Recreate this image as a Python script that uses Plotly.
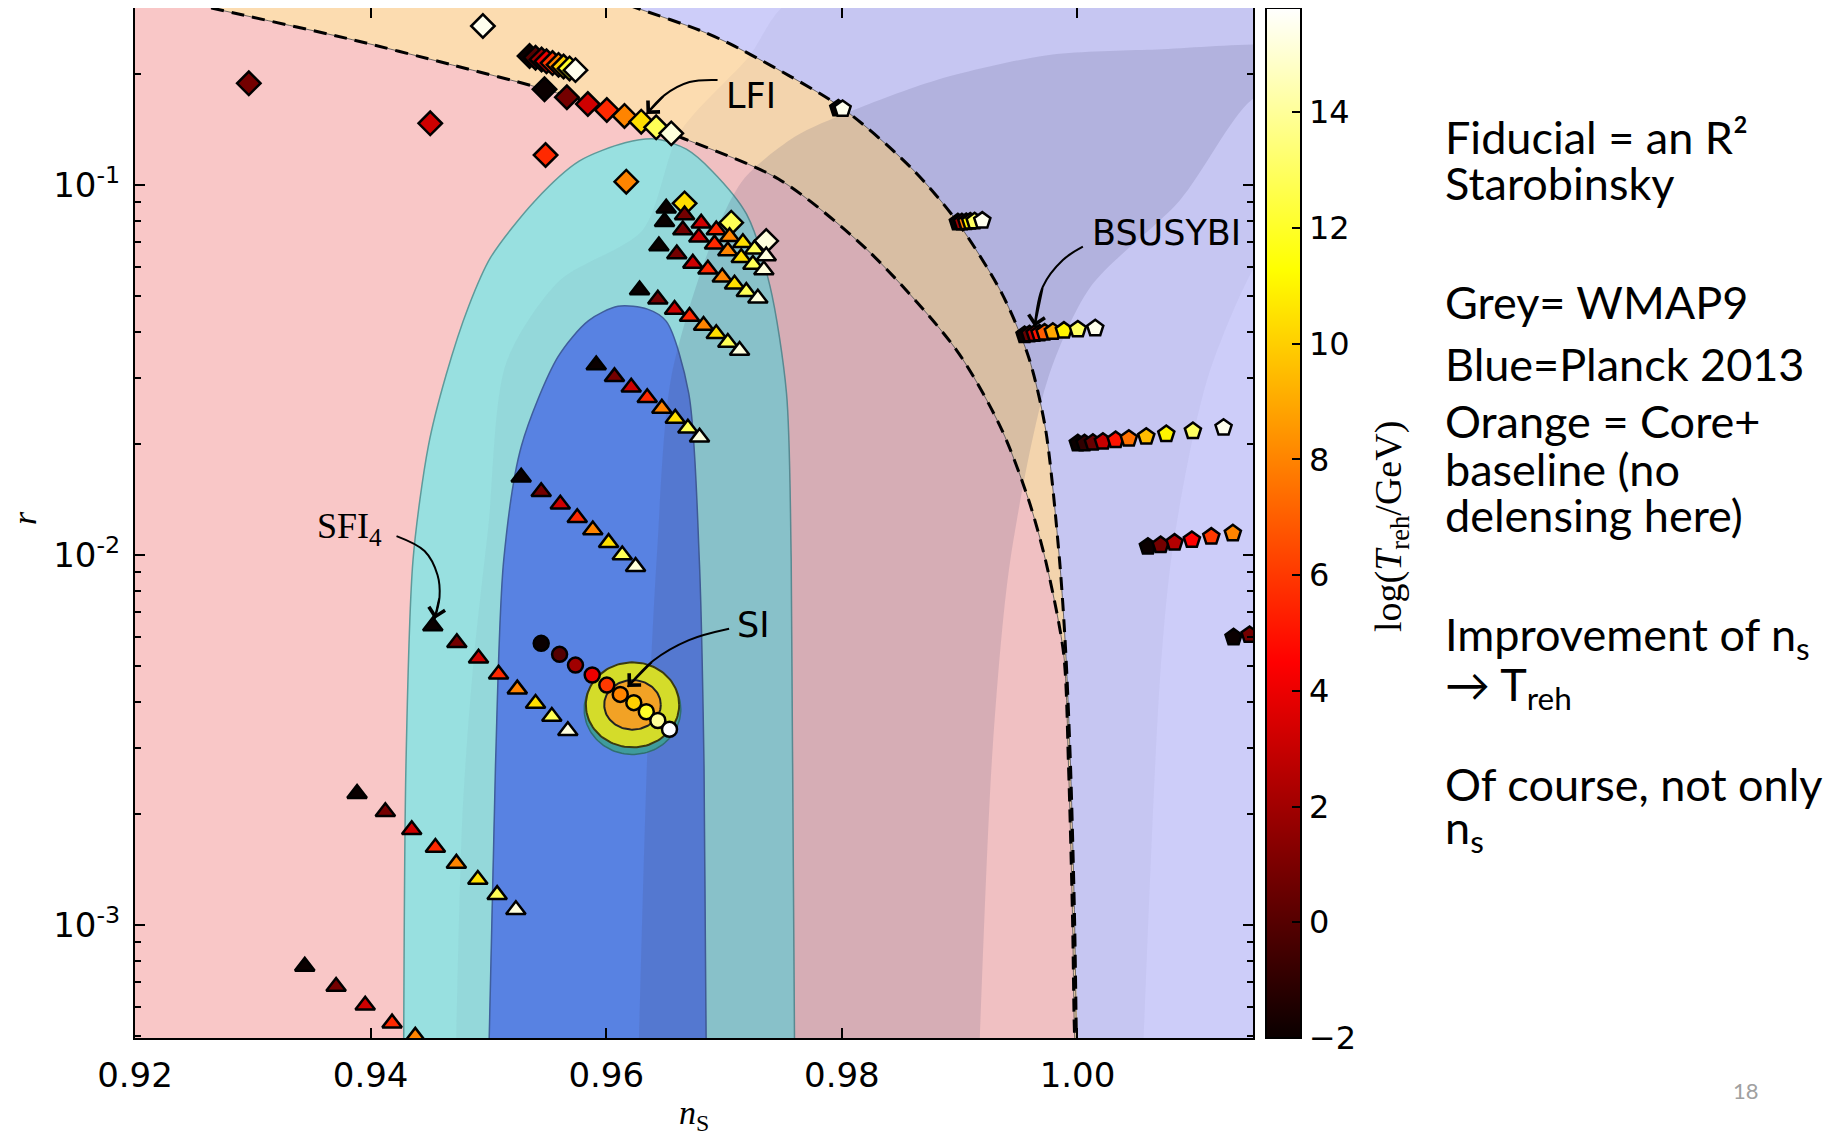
import numpy as np
import plotly.graph_objects as go

# ---------------------------------------------------------------- data
X_RANGE = [0.92, 1.0149]
LOGR_RANGE = [-3.3054, -0.5216]
x_tick_vals = [0.92, 0.94, 0.96, 0.98, 1.00]
y_tick_vals = [1e-3, 1e-2, 1e-1]
y_tick_text = ["10<sup>-3</sup>", "10<sup>-2</sup>", "10<sup>-1</sup>"]
y_minor_vals = [k * 10.0 ** e for e in (-4, -3, -2, -1) for k in range(2, 10)]
cbar_tick_vals = [-2, 0, 2, 4, 6, 8, 10, 12, 14]
cbar_tick_text = ["\u22122", "0", "2", "4", "6", "8", "10", "12", "14"]
T_MIN, T_MAX = -2.0, 15.8

# LFI band boundaries (dashed curves)
lfi_lower_ns = [0.9230, 0.92649, 0.93846, 0.94695, 0.95408, 0.96113, 0.96622, 0.97462, 0.98218,
                0.98973, 0.99355, 0.99585, 0.99729, 0.99882, 0.99924, 0.99958, 0.99975, 0.99985]
lfi_lower_r = [0.32, 0.301, 0.247, 0.211, 0.184, 0.157, 0.135, 0.1038, 0.0667,
               0.0358, 0.0219, 0.0141, 0.00968, 0.00543, 0.00269, 0.00105, 0.000507, 0.00045]
lfi_upper_ns = [0.9602, 0.96283, 0.96792, 0.97081, 0.97989, 0.98592, 0.98974, 0.99356, 0.99585,
                0.99729, 0.99848, 0.99900, 0.99941, 0.99975, 0.99992]
lfi_upper_r = [0.32, 0.299, 0.262, 0.238, 0.1626, 0.111, 0.080, 0.0511, 0.0343,
               0.0219, 0.00968, 0.0055, 0.00269, 0.00105, 0.00045]

# Planck 2013 contours
planck2_ns = [0.9428, 0.9430, 0.9436, 0.9449, 0.9464, 0.9483, 0.9502, 0.9540, 0.9577, 0.9616,
              0.9642, 0.9668, 0.9690, 0.9719, 0.9739, 0.9753, 0.9757, 0.9760]
planck2_r = [0.0004, 0.0027, 0.0097, 0.0197, 0.0306, 0.0468, 0.0638, 0.091, 0.116, 0.130,
             0.1331, 0.125, 0.109, 0.0835, 0.0533, 0.0274, 0.0097, 0.0004]
planck1_ns = [0.9500, 0.9506, 0.9513, 0.9528, 0.9559, 0.9585, 0.9610, 0.9635, 0.9651, 0.9670,
              0.9679, 0.9683, 0.9685]
planck1_r = [0.0004, 0.0027, 0.0097, 0.0197, 0.0343, 0.0430, 0.0470, 0.0462, 0.0428, 0.0274,
             0.0097, 0.0027, 0.0004]

# WMAP9 contours (grey overlays)
wmap2_ns = [0.9472, 0.9478, 0.9487, 0.9500, 0.9515, 0.9560, 0.9631, 0.9662, 0.9720, 0.9760,
            1.0200, 1.0200, 1.0150, 1.0110, 1.0081, 1.0070, 1.0055]
wmap2_r = [0.0004, 0.002, 0.005, 0.012, 0.033, 0.055, 0.0756, 0.138, 0.22, 0.32,
           0.32, 0.10, 0.06, 0.0297, 0.0105, 0.0046, 0.0004]
wmap1_ns = [0.9627, 0.9635, 0.9643, 0.9655, 0.9688, 0.9716, 0.9760, 0.9807, 0.9880, 0.9973,
            1.0060, 1.0200, 1.0200, 1.0148, 1.0087, 1.0011, 0.9975, 0.9943, 0.9928, 0.9916]
wmap1_r = [0.0004, 0.003, 0.010, 0.030, 0.068, 0.103, 0.135, 0.158, 0.192, 0.224,
           0.232, 0.232, 0.20, 0.17, 0.091, 0.053, 0.030, 0.0097, 0.003, 0.0004]

# CORE+ forecast ellipses (centre / semi-axes in ns and log10 r)
core_ns0, core_logr0 = 0.96223, -2.405
core_outer_axes = (0.00410, 0.122)
core_mid_axes = (0.00396, 0.115)
core_inner_axes = (0.00240, 0.067)

# model predictions, colour = log(T_reh/GeV)
T8 = [-2.0, 0.8, 3.2, 5.6, 8.0, 10.4, 12.8, 15.2]

lfi_row_ns = [0.95476, 0.95666, 0.95844, 0.96005, 0.96155, 0.96297, 0.96424, 0.96552]
lfi_row_r = [0.1814, 0.1726, 0.1655, 0.1595, 0.1537, 0.1483, 0.1432, 0.1379]
lfi_cluster_ns = [0.95349, 0.95400, 0.95451, 0.95493, 0.95544, 0.95595, 0.95638, 0.95689, 0.95739]
lfi_cluster_r = [0.2232, 0.2208, 0.2184, 0.2159, 0.2136, 0.2112, 0.2090, 0.2066, 0.2044]
lfi_cluster_T = [-2, 0, 2, 4, 6, 8, 10, 12, 15.5]
lfi_branch_ns = [0.92966, 0.94506, 0.95485, 0.96170, 0.96665, 0.97061, 0.97358, 0.94953]
lfi_branch_r = [0.1883, 0.1468, 0.1205, 0.1021, 0.0892, 0.0791, 0.0706, 0.269]
lfi_branch_T = [0.8, 3.2, 5.6, 8.0, 10.4, 12.8, 15.2, 15.5]

tri_row1_ns = [0.96509, 0.96665, 0.96806, 0.96934, 0.97047, 0.97160, 0.97259, 0.97358]
tri_row1_r = [0.0865, 0.0830, 0.0788, 0.0756, 0.0725, 0.0698, 0.0670, 0.0643]
tri_row2_ns = [0.96495, 0.96650, 0.96786, 0.96919, 0.97032, 0.97146, 0.97245, 0.97338]
tri_row2_r = [0.0796, 0.0756, 0.0722, 0.0692, 0.0663, 0.0636, 0.0610, 0.0589]
tri_row3_ns = [0.96447, 0.96599, 0.96735, 0.96863, 0.96985, 0.97089, 0.97189, 0.97287]
tri_row3_r = [0.0684, 0.0651, 0.0614, 0.0592, 0.0563, 0.0539, 0.0515, 0.0494]
tri_row4_ns = [0.96283, 0.96438, 0.96580, 0.96707, 0.96826, 0.96934, 0.97032, 0.97132]
tri_row4_r = [0.0520, 0.0491, 0.0461, 0.0441, 0.0417, 0.0396, 0.0375, 0.0357]
tri_row5_ns = [0.95915, 0.96070, 0.96212, 0.96348, 0.96472, 0.96586, 0.96693, 0.96792]
tri_row5_r = [0.0326, 0.0303, 0.0284, 0.0266, 0.0249, 0.0234, 0.0220, 0.0208]
tri_row6_ns = [0.95278, 0.95448, 0.95610, 0.95754, 0.95886, 0.96020, 0.96136, 0.96249]
tri_row6_r = [0.01622, 0.01483, 0.01371, 0.01261, 0.01168, 0.01080, 0.01000, 0.00930]
sfi4_ns = [0.94528, 0.94732, 0.94916, 0.95086, 0.95245, 0.95400, 0.95538, 0.95674]
sfi4_r = [0.00643, 0.00579, 0.00526, 0.00476, 0.00434, 0.00397, 0.00366, 0.00335]
tri_row8_ns = [0.93885, 0.94125, 0.94349, 0.94550, 0.94728, 0.94910, 0.95074, 0.95233]
tri_row8_r = [0.002265, 0.002024, 0.001809, 0.00162, 0.001467, 0.001327, 0.001208, 0.001099]
tri_row9_ns = [0.93441, 0.93707, 0.93954, 0.94182, 0.94379, 0.94576]
tri_row9_r = [0.000773, 0.000682, 0.000607, 0.000543, 0.000500, 0.00046]
tri_row9_T = [-2.0, 0.8, 3.2, 5.6, 8.0, 10.4]

si_ns = [0.95448, 0.95604, 0.95739, 0.95881, 0.96005, 0.96119, 0.96234, 0.96340, 0.96438, 0.96537]
si_r = [0.00577, 0.00539, 0.00504, 0.00474, 0.00445, 0.00420, 0.00399, 0.00377, 0.00357, 0.00338]
si_T = [-2, 0, 2, 4, 6, 8, 10, 12, 14, 15.8]

pent1_ns = [0.97970, 0.98006]
pent1_r = [0.1610, 0.1605]
pent1_T = [-2, 15.5]
pent2_ns = [0.98985, 0.99019, 0.99056, 0.99090, 0.99127, 0.99192]
pent2_r = [0.0793, 0.0793, 0.0794, 0.0796, 0.0798, 0.0801]
pent2_T = [-2, 2, 8, 11, 13, 15.5]
bsusybi_ns = [0.99551, 0.99593, 0.99636, 0.99678, 0.99721, 0.99791, 0.99885, 1.00003, 1.00151]
bsusybi_r = [0.0393, 0.0395, 0.0396, 0.0397, 0.0399, 0.0401, 0.0404, 0.0407, 0.0410]
bsusybi_T = [-2, 0.5, 3, 5, 7, 9, 11, 13, 15.5]
pent4_ns = [1.00003, 1.0006, 1.00131, 1.00216, 1.00324, 1.00436, 1.00584, 1.00754, 1.0098, 1.0124]
pent4_r = [0.02004, 0.02004, 0.02011, 0.02024, 0.02045, 0.02062, 0.02088, 0.02123, 0.02163, 0.02208]
pent4_T = [-2, -1, 0.5, 3, 5, 7.5, 9.5, 11, 13, 15.5]
pent5_ns = [1.00598, 1.00706, 1.00824, 1.00971, 1.01136, 1.01319]
pent5_r = [0.01053, 0.01064, 0.01080, 0.01098, 0.01121, 0.01145]
pent5_T = [-2, 0.8, 2.5, 4.5, 6.0, 8.0]
pent6_ns = [1.01325, 1.01461]
pent6_r = [0.00599, 0.00608]
pent6_T = [-2, 0.8]

# curved annotation arrows (ns, r) and labels
arrow_lfi = ([0.96945, 0.96707, 0.96495, 0.96342], [0.1922, 0.1898, 0.1750, 0.1555])
arrow_bsusybi = ([1.00046, 0.99876, 0.99706, 0.99636], [0.0681, 0.0627, 0.0531, 0.0414])
arrow_si = ([0.97043, 0.96702, 0.96398, 0.96181], [0.00632, 0.00589, 0.00518, 0.00440])
arrow_sfi4 = ([0.94220, 0.94458, 0.94568, 0.94585, 0.94543], [0.01125, 0.01025, 0.00883, 0.0077, 0.00671])
label_lfi = (0.97233, 0.174)
label_bsusybi = (1.00756, 0.0742)
label_si = (0.97252, 0.00647)
label_sfi4 = (0.93821, 0.01183)

side_text = ["Fiducial = an R\u00b2", "Starobinsky", "Grey= WMAP9", "Blue=Planck 2013",
             "Orange = Core+", "baseline (no", "delensing here)", "Improvement of n<sub>s</sub>",
             "\u2192 T<sub>reh</sub>", "Of course, not only", "n<sub>s</sub>"]

# ---------------------------------------------------------------- figure
W, H = 1841, 1132
OFF = 8                          # page body margin of the html page
PW, PH = 1118, 1030              # plot area size
ML, MT = 135 - OFF, 8 - OFF
MR, MB = W - ML - PW, H - MT - PH

def px_x(px):
    return (px - OFF - ML) / PW

def px_y(py):
    return (H - MB - (py - OFF)) / PH

hot = [[0.0, "rgb(10,0,0)"], [0.365, "rgb(255,0,0)"], [0.746, "rgb(255,255,0)"], [1.0, "rgb(255,255,255)"]]

fig = go.Figure()

def poly(xs, rs, fill, line_color=None, line_width=0, smooth=True):
    fig.add_trace(go.Scatter(
        x=xs, y=rs, mode="lines", fill="toself", fillcolor=fill,
        line=dict(width=line_width, color=line_color or fill,
                  shape="spline" if smooth else "linear", smoothing=0.8),
        hoverinfo="skip", showlegend=False))

# pink region left of the LFI band
poly([0.90] + lfi_lower_ns + [0.90], [0.35] + lfi_lower_r + [0.00045], "#f9c7c7")
# LFI band (orange)
poly(lfi_lower_ns + lfi_upper_ns[::-1], lfi_lower_r + lfi_upper_r[::-1], "#fcdcb0")
# Planck
poly(planck2_ns, planck2_r, "#98e0e0", "#5e9a9a", 1.5)
poly(planck1_ns, planck1_r, "#5985e8", "#3f5f9f", 1.5)
# WMAP9 overlays
poly(wmap2_ns, wmap2_r, "rgba(70,70,110,0.05)")
poly(wmap1_ns, wmap1_r, "rgba(70,70,110,0.15)")

# CORE+ ellipses
t = np.linspace(0, 2 * np.pi, 120)
def ellipse(axes, dlog=0.0):
    a, b = axes
    return core_ns0 + a * np.cos(t), 10 ** (core_logr0 + dlog + b * np.sin(t))
ex, ey = ellipse(core_outer_axes, -0.012)
poly(list(ex), list(ey), "#3f9c9c", "#2f6f6f", 1.5, False)
ex, ey = ellipse(core_mid_axes)
poly(list(ex), list(ey), "#d4dc2a", "#3a3a10", 2, False)
ex, ey = ellipse(core_inner_axes)
poly(list(ex), list(ey), "#f2a225", "#222222", 2, False)

# dashed LFI boundaries
for xs, rs in [(lfi_lower_ns, lfi_lower_r), (lfi_upper_ns, lfi_upper_r)]:
    fig.add_trace(go.Scatter(x=xs, y=rs, mode="lines",
                             line=dict(color="rgba(60,60,60,0.7)", width=1, shape="spline", smoothing=0.8),
                             hoverinfo="skip", showlegend=False))
    fig.add_trace(go.Scatter(x=xs, y=rs, mode="lines",
                             line=dict(color="black", width=3, dash="13px,8px", shape="spline", smoothing=0.8),
                             hoverinfo="skip", showlegend=False))

# arrows (bodies)
for xs, rs in [arrow_lfi, arrow_bsusybi, arrow_si, arrow_sfi4]:
    fig.add_trace(go.Scatter(x=xs, y=rs, mode="lines", line=dict(color="black", width=2, shape="spline"),
                             hoverinfo="skip", showlegend=False))

# markers
def markers(xs, rs, ts, symbol, size):
    fig.add_trace(go.Scatter(
        x=xs, y=rs, mode="markers",
        marker=dict(symbol=symbol, size=size, color=ts, coloraxis="coloraxis",
                    line=dict(color="black", width=2.5)),
        hoverinfo="skip", showlegend=False))

markers(lfi_cluster_ns, lfi_cluster_r, lfi_cluster_T, "diamond", 18)
markers(lfi_row_ns, lfi_row_r, T8, "diamond", 18)
markers(lfi_branch_ns, lfi_branch_r, lfi_branch_T, "diamond", 18)
for xs, rs in [(tri_row1_ns, tri_row1_r), (tri_row2_ns, tri_row2_r), (tri_row3_ns, tri_row3_r),
               (tri_row4_ns, tri_row4_r), (tri_row5_ns, tri_row5_r), (tri_row6_ns, tri_row6_r),
               (sfi4_ns, sfi4_r), (tri_row8_ns, tri_row8_r)]:
    markers(xs, rs, T8, "triangle-up", 17)
markers(tri_row9_ns, tri_row9_r, tri_row9_T, "triangle-up", 17)
markers(si_ns, si_r, si_T, "circle", 15)
markers(pent1_ns, pent1_r, pent1_T, "pentagon", 17)
markers(pent2_ns, pent2_r, pent2_T, "pentagon", 17)
markers(bsusybi_ns, bsusybi_r, bsusybi_T, "pentagon", 17)
markers(pent4_ns, pent4_r, pent4_T, "pentagon", 17)
markers(pent5_ns, pent5_r, pent5_T, "pentagon", 17)
markers(pent6_ns, pent6_r, pent6_T, "pentagon", 17)

annotations = []
# arrow heads
for xs, rs in [arrow_lfi, arrow_bsusybi, arrow_si, arrow_sfi4]:
    annotations.append(dict(x=xs[-1], y=np.log10(rs[-1]), ax=xs[-2], ay=np.log10(rs[-2]),
                            xref="x", yref="y", axref="x", ayref="y", text="", showarrow=True,
                            arrowhead=4, arrowsize=1.6, arrowwidth=2, arrowcolor="black", standoff=0))
# model labels
for (lx, lr), txt, fam, sz in [(label_lfi, "LFI", "DejaVu Sans", 35),
                               (label_bsusybi, "BSUSYBI", "DejaVu Sans", 35),
                               (label_si, "SI", "DejaVu Sans", 35),
                               (label_sfi4, "SFI<sub>4</sub>", "Liberation Serif", 36)]:
    annotations.append(dict(x=lx, y=np.log10(lr), xref="x", yref="y", text=txt, showarrow=False,
                            font=dict(family=fam, size=sz, color="black"), xanchor="center", yanchor="middle"))

# axis titles
annotations.append(dict(x=px_x(694), y=px_y(1115), xref="paper", yref="paper", showarrow=False,
                        xanchor="center", yanchor="middle",
                        text="<i>n</i><sub>S</sub>", font=dict(family="Liberation Serif", size=34, color="black")))
annotations.append(dict(x=px_x(24), y=px_y(518), xref="paper", yref="paper", showarrow=False, textangle=-90,
                        xanchor="center", yanchor="middle",
                        text="<i>r</i>", font=dict(family="Liberation Serif", size=34, color="black")))
# colour bar title
annotations.append(dict(x=px_x(1391), y=px_y(527), xref="paper", yref="paper", showarrow=False, textangle=-90,
                        xanchor="center", yanchor="middle",
                        text="log(<i>T</i><sub>reh</sub>/GeV)",
                        font=dict(family="Liberation Serif", size=38, color="black")))

# slide text
side_baselines = [152, 198, 317, 379, 436, 484, 530, 649, 699, 799, 842]
SIDE_SIZE = 45
for txt, base in zip(side_text, side_baselines):
    annotations.append(dict(x=px_x(1443), y=px_y(base - 0.98 * SIDE_SIZE), xref="paper", yref="paper",
                            text=txt, showarrow=False, xanchor="left", yanchor="top",
                            font=dict(family="Lato", size=SIDE_SIZE, color="black")))
annotations.append(dict(x=px_x(1746), y=px_y(1090), xref="paper", yref="paper", text="18", showarrow=False,
                        xanchor="center", yanchor="middle",
                        font=dict(family="Lato", size=22, color="#a0a0a0")))

axis_common = dict(showgrid=False, zeroline=False, showline=True, linecolor="black", linewidth=2,
                   mirror="ticks", ticks="inside", ticklen=10, tickwidth=1.5, tickcolor="black",
                   automargin=False,
                   tickfont=dict(family="DejaVu Sans", size=34, color="black"))

fig.update_layout(
    width=W, height=H, margin=dict(l=ML, r=MR, t=MT, b=MB, autoexpand=False),
    paper_bgcolor="white", plot_bgcolor="#cdcdf9", showlegend=False,
    xaxis=dict(range=X_RANGE, tickvals=x_tick_vals, ticktext=[f"{v:.2f}" for v in x_tick_vals],
               ticklabelstandoff=6, **axis_common),
    yaxis=dict(type="log", range=LOGR_RANGE, tickvals=y_tick_vals, ticktext=y_tick_text,
               ticklabelstandoff=6,
               minor=dict(ticks="inside", ticklen=6, tickcolor="black", tickvals=y_minor_vals, showgrid=False),
               **axis_common),
    coloraxis=dict(
        cmin=T_MIN, cmax=T_MAX, colorscale=hot,
        colorbar=dict(x=px_x(1266), xanchor="left", xpad=0, ypad=0, y=0.5, yanchor="middle",
                      len=1.0, lenmode="fraction", thickness=35, thicknessmode="pixels",
                      outlinewidth=2, outlinecolor="black", ticks="inside", ticklen=10,
                      tickcolor="black", tickwidth=1.5,
                      tickvals=cbar_tick_vals, ticktext=cbar_tick_text,
                      tickfont=dict(family="DejaVu Sans", size=32, color="black"))),
    annotations=annotations,
)

fig.write_html("out.html")
